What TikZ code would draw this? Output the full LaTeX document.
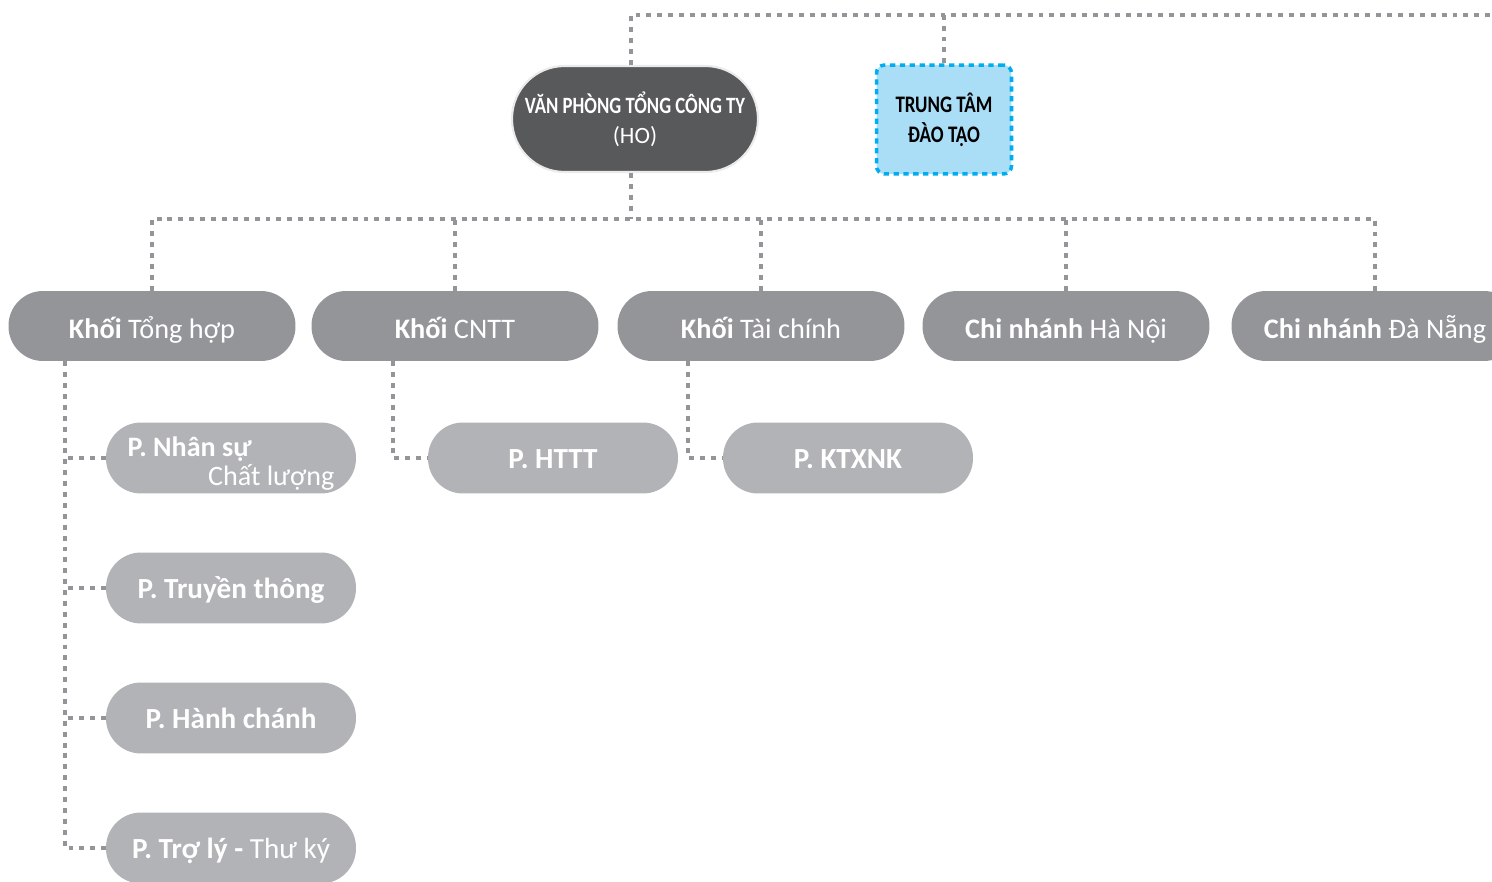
\documentclass[tikz,border=0pt]{standalone}
\usepackage{fontspec}
\setmainfont{Carlito}
\newfontfamily\condfont[FakeStretch=0.8]{Carlito}
\definecolor{hogray}{HTML}{58595B}
\definecolor{khoigray}{HTML}{939598}
\definecolor{phonggray}{HTML}{B1B3B6}
\definecolor{linkgray}{HTML}{939598}
\definecolor{ttfill}{HTML}{AADEF7}
\definecolor{ttborder}{HTML}{00AEEF}
\begin{document}
\begin{tikzpicture}[
    x=0.02cm,y=-0.02cm,
    link/.style={
        draw=linkgray,
        line width=2.3pt,
        dash pattern=on 2.8pt off 3.4pt
    },
    khoi/.style={
        fill=khoigray,
        rounded corners=0.69cm,
        minimum width=5.74cm,
        minimum height=1.4cm,
        text height=0.57cm,
        text depth=0.08cm,
        text=white,
        font=\fontsize{16.1}{19}\selectfont
    },
    phong/.style={
        fill=phonggray,
        rounded corners=0.7cm,
        minimum width=5cm,
        minimum height=1.42cm,
        text height=0.5cm,
        text depth=0.1cm,
        text=white,
        font=\fontsize{16.6}{20}\selectfont\bfseries
    }
    ]

  \useasboundingbox (0,0) rectangle (1492,882);

  % top level
  \node[fill=hogray,draw=black!8,line width=1.2pt,rounded corners=1.05cm,
        minimum width=4.92cm,minimum height=2.12cm,text=white,align=center,
        font=\fontsize{13.3}{17}\selectfont] (ho) at (635,119)
        {{\condfont\bfseries V\u{A}N PHÒNG TỔNG CÔNG TY}\\(HO)};
  \node[fill=ttfill,draw=ttborder,line width=2pt,dash pattern=on 3pt off 2.6pt,
        rounded corners=0.16cm,minimum width=2.7cm,minimum height=2.18cm,
        align=center,font=\fontsize{13.5}{17}\selectfont\condfont\bfseries] (ttdt) at (944,119.5)
        {TRUNG TÂM\\ĐÀO TẠO};

  % khoi / chi nhanh
  \node[khoi] (ktonghop) at (152,326) {\textbf{Khối} Tổng hợp};
  \node[khoi] (kcntt) at (455,326) {\textbf{Khối} CNTT};
  \node[khoi] (ktaichinh) at (761,326) {\textbf{Khối} Tài chính};
  \node[khoi] (cnhanoi) at (1066,326) {\textbf{Chi nhánh} Hà Nội};
  \node[khoi] (cndanang) at (1375,326) {\textbf{Chi nhánh} Đà Nẵng};

  % phong
  \node[phong,text height=,text depth=,inner ysep=0pt] (pnhansu) at (231,458)
        {\parbox{4.14cm}{\vspace*{6pt}\fontsize{16}{16.6}\selectfont
         P. Nhân sự\\\hspace*{\fill}\mdseries Chất lượng}};
  \node[phong] (ptruyenthong) at (231,588) {P. Truyền thông};
  \node[phong] (phanhchanh) at (231,718) {P. Hành chánh};
  \node[phong] (ptroly) at (231,848) {P. Trợ lý - \mdseries Thư ký};
  \node[phong] (phttt) at (553,458) {P. HTTT};
  \node[phong] (pktxnk) at (848,458) {P. KTXNK};

  \coordinate (topright) at (1492,15);
  \coordinate (bus) at (631,219);
  \coordinate (spine) at (65,0);
  \coordinate (cnttdrop) at (393,0);
  \coordinate (tcdrop) at (688,0);

  \draw[link] (ho.north -| bus) -- (bus |- topright) -- (topright);
  \draw[link] (ttdt.north) -- (ttdt.north |- topright);
  \draw[link] (ho.south -| bus) -- (bus);
  \draw[link] (ktonghop.north) -- (ktonghop.north |- bus) -| (cndanang.north);
  \draw[link] (kcntt.north) -- (kcntt.north |- bus);
  \draw[link] (ktaichinh.north) -- (ktaichinh.north |- bus);
  \draw[link] (cnhanoi.north) -- (cnhanoi.north |- bus);

  \draw[link] (ktonghop.south -| spine) |- (ptroly.west);
  \draw[link] (pnhansu.west) -- (pnhansu.west -| spine);
  \draw[link] (ptruyenthong.west) -- (ptruyenthong.west -| spine);
  \draw[link] (phanhchanh.west) -- (phanhchanh.west -| spine);
  \draw[link] (kcntt.south -| cnttdrop) |- (phttt.west);
  \draw[link] (ktaichinh.south -| tcdrop) |- (pktxnk.west);
\end{tikzpicture}
\end{document}
